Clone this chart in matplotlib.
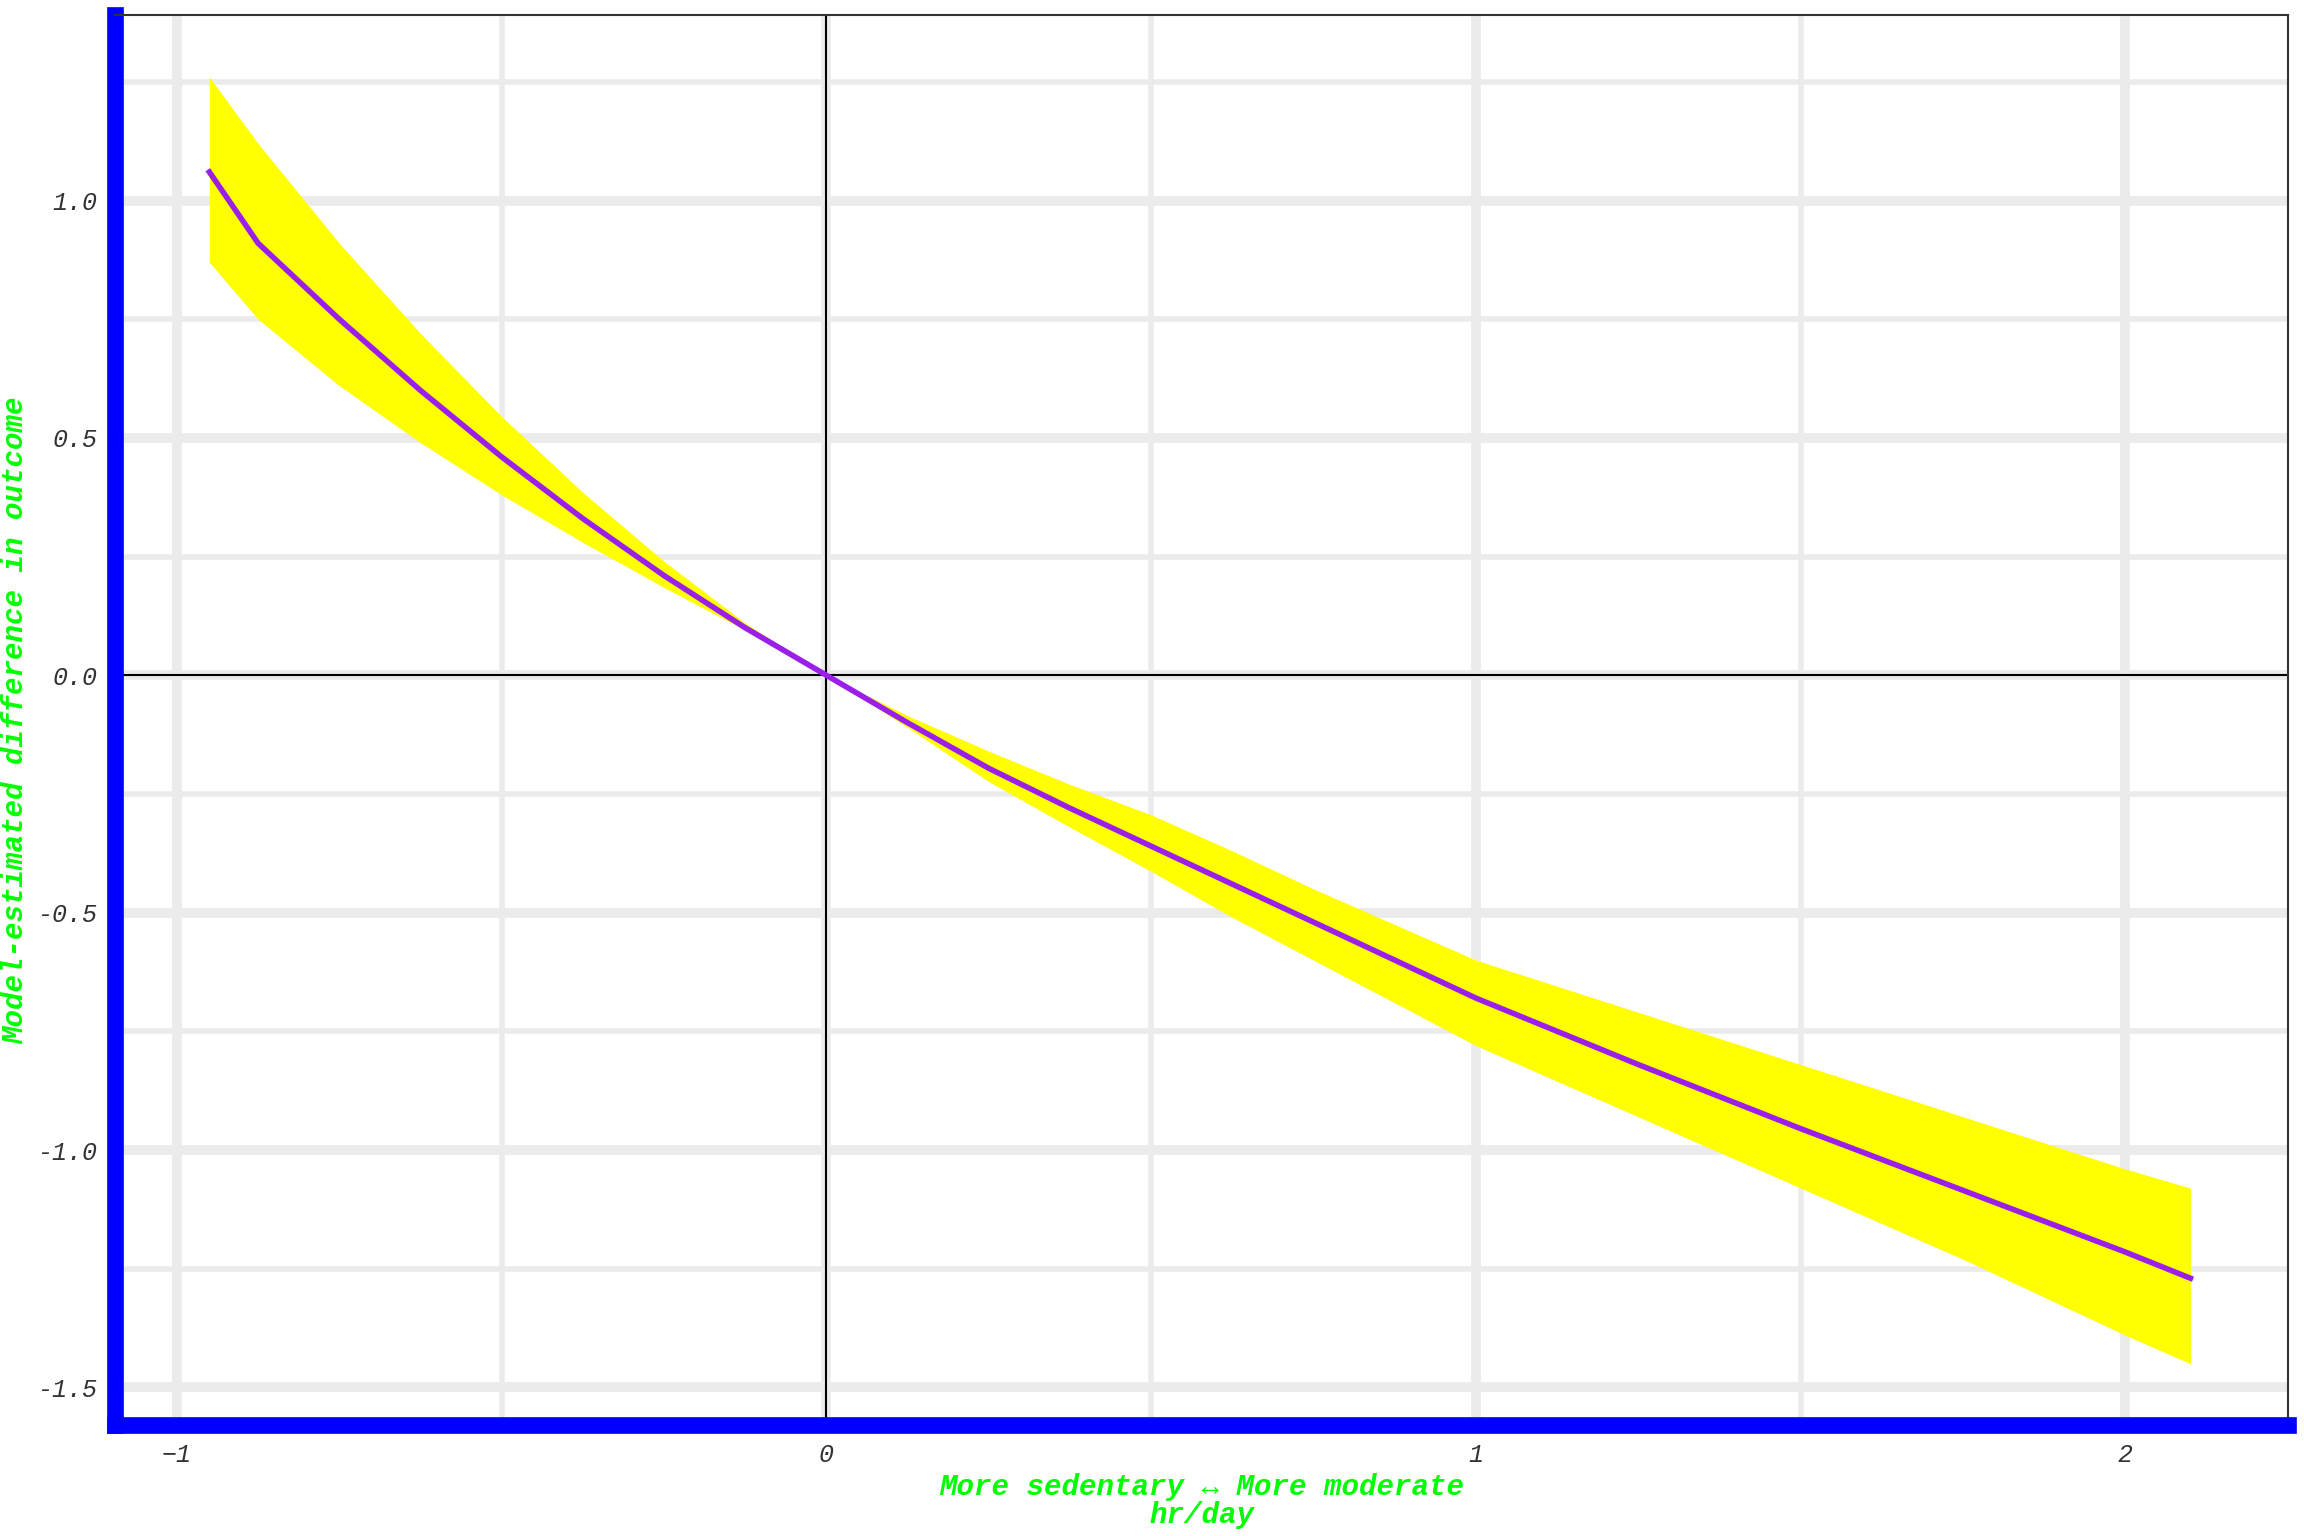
import matplotlib.pyplot as plt
from matplotlib.ticker import MultipleLocator

# valori
x = [-0.95, -0.875, -0.75, -0.625, -0.5, -0.375, -0.25, -0.125, 0,
     0.125, 0.25, 0.375, 0.5, 0.625, 0.75, 0.875, 1,
     1.25, 1.5, 1.75, 2, 2.1]
est = [1.06, 0.91, 0.75, 0.60, 0.46, 0.33, 0.21, 0.10, 0,
       -0.10, -0.196, -0.28, -0.36, -0.44, -0.52, -0.60, -0.68,
       -0.82, -0.955, -1.085, -1.215, -1.27]
upper = [1.26, 1.12, 0.91, 0.72, 0.545, 0.385, 0.24, 0.11, 0,
         -0.085, -0.16, -0.23, -0.294, -0.37, -0.45, -0.525, -0.60,
         -0.71, -0.82, -0.93, -1.04, -1.08]
lower = [0.87, 0.75, 0.61, 0.49, 0.38, 0.28, 0.185, 0.095, 0,
         -0.11, -0.224, -0.32, -0.413, -0.51, -0.60, -0.69, -0.78,
         -0.93, -1.08, -1.23, -1.39, -1.45]

mono = "Liberation Mono"

fig = plt.figure(figsize=(23.04, 15.36), dpi=100)
ax = fig.add_axes([0.05, 0.072, 0.943, 0.918])

ax.fill_between(x, lower, upper, color="#ffff00", linewidth=0, zorder=2)
ax.plot(x, est, color="#9b1fe8", linewidth=4, zorder=3)
ax.axhline(0, color="black", linewidth=1.5, zorder=2.5)
ax.axvline(0, color="black", linewidth=1.5, zorder=2.5)

ax.set_xlim(-1.095, 2.25)
ax.set_ylim(-1.58, 1.39)
ax.xaxis.set_major_locator(MultipleLocator(1))
ax.xaxis.set_minor_locator(MultipleLocator(0.5))
ax.yaxis.set_major_locator(MultipleLocator(0.5))
ax.yaxis.set_minor_locator(MultipleLocator(0.25))
ax.yaxis.set_major_formatter(lambda v, p: f"{v:.1f}")

ax.grid(which="major", color="#ebebeb", linewidth=7, zorder=0)
ax.grid(which="minor", color="#ebebeb", linewidth=4, zorder=0)
ax.set_axisbelow(True)

for side in ("left", "bottom"):
    ax.spines[side].set_color("blue")
    ax.spines[side].set_linewidth(12)
for side in ("top", "right"):
    ax.spines[side].set_color("#333333")
    ax.spines[side].set_linewidth(1.5)

ax.tick_params(which="major", length=5, width=8, color="#333333",
               labelsize=18, labelcolor="#333333", pad=8)
ax.tick_params(which="minor", length=0)
for lab in ax.get_xticklabels() + ax.get_yticklabels():
    lab.set_family(mono)
    lab.set_style("italic")

ax.set_xlabel("More sedentary \u2194 More moderate\nhr/day", color="#00ff00",
              fontsize=21, family=[mono, "DejaVu Sans Mono"], style="italic",
              weight="bold", labelpad=4, linespacing=1.0)
ax.set_ylabel("Model-estimated difference in outcome", color="#00ff00",
              fontsize=21, family=mono, style="italic", weight="bold", labelpad=6)

fig.savefig("out.png", dpi=100)
